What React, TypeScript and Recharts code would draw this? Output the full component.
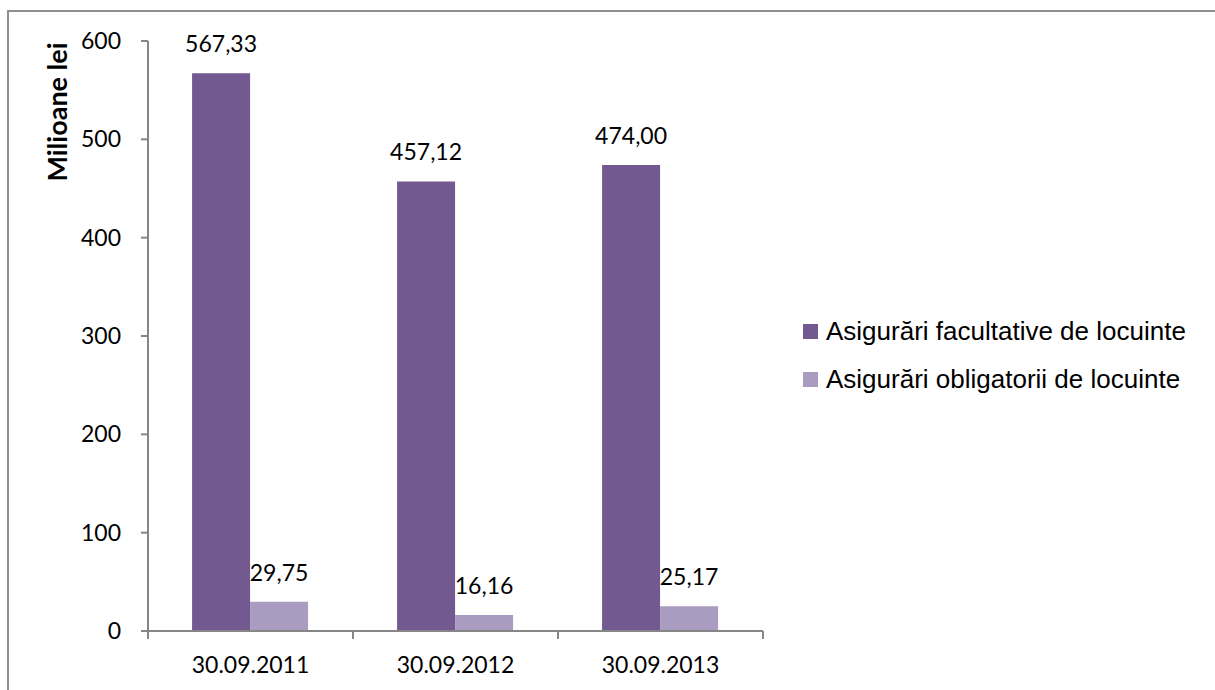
import { BarChart, Bar, XAxis, YAxis, LabelList, Label } from "recharts";

const categories = ["30.09.2011", "30.09.2012", "30.09.2013"];
const facultative = [567.33, 457.12, 474.0];
const obligatorii = [29.75, 16.16, 25.17];
const yTicks = [0, 100, 200, 300, 400, 500, 600];

const SERIES = [
  { key: "facultative", name: "Asigurări facultative de locuinte", color: "#72598F" },
  { key: "obligatorii", name: "Asigurări obligatorii de locuinte", color: "#AA9BC1" },
];

const data = categories.map((c, i) => ({
  name: c,
  facultative: facultative[i],
  obligatorii: obligatorii[i],
}));

const fmt = (v: number) => v.toFixed(2).replace(".", ",");
const AXIS = "#868686";
const FONT = "Lato, 'Open Sans', sans-serif";

const W = 1215;
const H = 690;
const MARGIN = { top: 41, right: 452, bottom: 19, left: 0 };
const Y_W = 148;
const BAND = (W - MARGIN.right - Y_W) / categories.length;
const TICK_SIZE = 8;
const TICK_MARGIN = 18;

// category ticks sit on the band edges, like excel does
function XTick(props: any) {
  const { x, y, payload, index } = props;
  const top = y - TICK_MARGIN - TICK_SIZE;
  const bot = y - TICK_MARGIN;
  const last = index === categories.length - 1;
  return (
    <g>
      <line x1={x - BAND / 2} x2={x - BAND / 2} y1={top} y2={bot} stroke={AXIS} strokeWidth={2} />
      {last && <line x1={x + BAND / 2} x2={x + BAND / 2} y1={top} y2={bot} stroke={AXIS} strokeWidth={2} />}
      <text x={x} y={y} dy="0.71em" textAnchor="middle" fill="#000" fontSize={23} fontFamily={FONT}>
        {payload.value}
      </text>
    </g>
  );
}

function ChartLegend() {
  return (
    <div
      style={{
        position: "absolute",
        left: 803,
        top: 307,
        fontFamily: "'Liberation Sans', Arial, sans-serif",
        fontSize: 26,
        color: "#000",
      }}
    >
      {SERIES.map((s) => (
        <div key={s.key} style={{ display: "flex", alignItems: "center", height: 48, whiteSpace: "nowrap" }}>
          <span style={{ width: 15, height: 15, background: s.color, marginRight: 8, display: "inline-block" }} />
          {s.name}
        </div>
      ))}
    </div>
  );
}

export default function App() {
  return (
    <div style={{ position: "absolute", left: 0, top: 0, width: W, height: H, background: "#fff", overflow: "hidden" }}>
      <div
        style={{
          position: "absolute",
          left: 7,
          top: 10,
          width: 1230,
          height: 700,
          borderTop: "2px solid #8f8f8f",
          borderLeft: "2px solid #8f8f8f",
        }}
      />
      <BarChart
        width={W}
        height={H}
        data={data}
        margin={MARGIN}
        barCategoryGap="21.5%"
        barGap={0}
        style={{ position: "absolute", left: 0, top: 0 }}
      >
        <XAxis
          dataKey="name"
          height={40}
          stroke={AXIS}
          strokeWidth={2}
          tickSize={TICK_SIZE}
          tickMargin={TICK_MARGIN}
          tick={<XTick />}
          tickLine={false}
          interval={0}
        />
        <YAxis
          width={Y_W}
          domain={[0, 600]}
          ticks={yTicks}
          stroke={AXIS}
          strokeWidth={2}
          tickSize={7}
          tickMargin={20}
          tick={{ fill: "#000", fontSize: 23, fontFamily: FONT }}
          tickLine={{ stroke: AXIS, strokeWidth: 2 }}
          interval={0}
        >
          <Label
            content={() => (
              <text
                x={67}
                y={112}
                transform="rotate(-90 67 112)"
                textAnchor="middle"
                fontFamily={FONT}
                fontWeight="bold"
                fontSize={27}
                fill="#000"
              >
                Milioane lei
              </text>
            )}
          />
        </YAxis>
        {SERIES.map((s) => (
          <Bar key={s.key} dataKey={s.key} name={s.name} fill={s.color} isAnimationActive={false}>
            <LabelList
              dataKey={s.key}
              position="top"
              offset={21}
              formatter={(v: any) => fmt(Number(v))}
              style={{ fill: "#000", fontSize: 23, fontFamily: FONT }}
            />
          </Bar>
        ))}
      </BarChart>
      <ChartLegend />
    </div>
  );
}
